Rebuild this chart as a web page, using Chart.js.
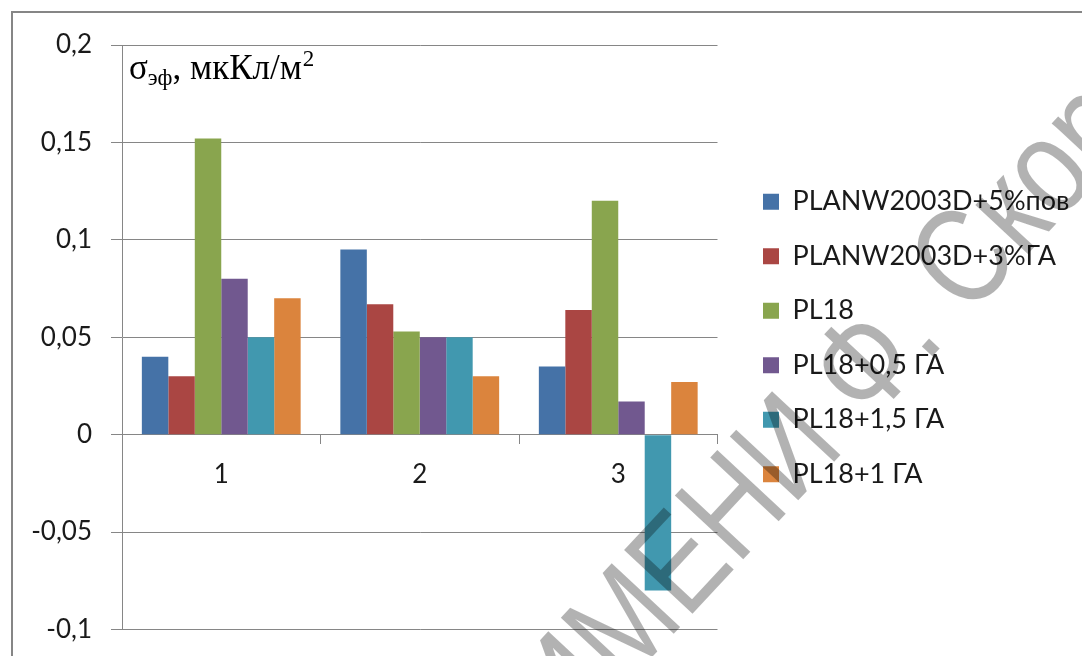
<!DOCTYPE html>
<html>
<head>
<meta charset="utf-8">
<script src="https://cdn.jsdelivr.net/npm/chart.js@4.4.1/dist/chart.umd.min.js"></script>
<style>
  html, body { margin: 0; padding: 0; background: #ffffff; overflow: hidden; }
  #wrap { position: relative; width: 1082px; height: 656px; overflow: hidden; }
  #frame { position: absolute; left: 11px; top: 11px; width: 1200px; height: 800px;
           border: 2px solid #868686; box-sizing: border-box; }
  #c { position: absolute; left: 0; top: 0; }
</style>
</head>
<body>
<div id="wrap">
  <div id="frame"></div>
  <canvas id="c" width="1082" height="656"></canvas>
</div>
<script>
// Sample numbers (categories 1..3)
const categories = ['1', '2', '3'];

// Series names
const seriesNames = [
  'PLANW2003D+5%пов',
  'PLANW2003D+3%ГА',
  'PL18',
  'PL18+0,5 ГА',
  'PL18+1,5 ГА',
  'PL18+1 ГА'
];

// Effective surface charge density, μC/m²
const planw5pov  = [0.040, 0.095, 0.035];
const planw3ga   = [0.030, 0.067, 0.064];
const pl18       = [0.152, 0.053, 0.120];
const pl18ga05   = [0.080, 0.050, 0.017];
const pl18ga15   = [0.050, 0.050, -0.080];
const pl18ga1    = [0.070, 0.030, 0.027];

// Value axis ticks and their printed labels
const yTickValues = [-0.1, -0.05, 0, 0.05, 0.1, 0.15, 0.2];
const yTickLabels = ['-0,1', '-0,05', '0', '0,05', '0,1', '0,15', '0,2'];

const seriesValues = [planw5pov, planw3ga, pl18, pl18ga05, pl18ga15, pl18ga1];
const seriesColors = ['#4572A7', '#AA4643', '#89A54E', '#71588F', '#4198AF', '#DB843D'];

const uiFont = 'Lato, "Open Sans", sans-serif';
const axisGrey = '#868686';
const textColor = '#1a1a1a';
const tickFontSize = 26;
const legendFontSize = 27;
const legendRowGap = 27.5;

// Legend block placed to the right of the plot
const legendPlacement = {
  id: 'legendPlacement',
  afterLayout(chart) {
    const lg = chart.legend;
    if (!lg) return;
    const pad = lg.options.labels.padding;
    const firstRowTop = 201.7 - legendFontSize / 2;
    const colHeight = 6 * (legendFontSize + pad);
    lg.left = 763 - pad;
    lg.right = 1082;
    lg.width = lg.right - lg.left;
    lg.bottom = 540;
    lg.top = 2 * firstRowTop - pad + colHeight - lg.bottom;
    lg.height = lg.bottom - lg.top;
  }
};

// Axis caption inside the plot: σэф, мкКл/м²
const axisCaption = {
  id: 'axisCaption',
  afterDraw(chart) {
    const ctx = chart.ctx;
    const serif = '"Liberation Serif", "Times New Roman", serif';
    const big = 35, small = 23;
    const base = 79;
    let x = 129;
    ctx.save();
    ctx.fillStyle = '#000000';
    ctx.textAlign = 'left';
    ctx.textBaseline = 'alphabetic';
    ctx.font = big + 'px ' + serif;
    ctx.fillText('σ', x, base);
    x += ctx.measureText('σ').width;
    ctx.font = small + 'px ' + serif;
    ctx.fillText('эф', x, base + 6);
    x += ctx.measureText('эф').width;
    ctx.font = big + 'px ' + serif;
    ctx.fillText(', мкКл/м', x, base);
    x += ctx.measureText(', мкКл/м').width;
    ctx.font = small + 'px ' + serif;
    ctx.fillText('2', x + 1, base - 13);
    ctx.restore();
  }
};

// Translucent diagonal watermark over the figure
const watermark = {
  id: 'watermark',
  afterDraw(chart) {
    const ctx = chart.ctx;
    const text = 'ИМЕНИ Ф. Скорины';
    const size = 136;
    ctx.save();
    ctx.font = size + 'px "Liberation Sans", Arial, sans-serif';
    ctx.textAlign = 'left';
    ctx.textBaseline = 'alphabetic';
    const wLead = ctx.measureText('ИМ').width;
    const wE = ctx.measureText('Е').width;
    const capH = size * 0.716;
    ctx.translate(676, 560);
    ctx.rotate(-47 * Math.PI / 180);
    ctx.scale(0.82, 1);
    ctx.fillStyle = 'rgba(0,0,0,0.3)';
    ctx.fillText(text, -(wLead + wE / 2), capH / 2);
    ctx.restore();
  }
};

const datasets = seriesNames.map((name, i) => ({
  label: name,
  data: seriesValues[i],
  backgroundColor: seriesColors[i],
  borderWidth: 0,
  categoryPercentage: 0.8,
  barPercentage: 1.0
}));

new Chart(document.getElementById('c'), {
  type: 'bar',
  data: { labels: categories, datasets: datasets },
  options: {
    responsive: false,
    animation: false,
    devicePixelRatio: 1,
    layout: { padding: { left: 0, top: 45, right: 364.5, bottom: 26.5 } },
    scales: {
      x: {
        position: { y: 0 },
        offset: true,
        border: { display: true, color: axisGrey, width: 1 },
        grid: { display: true, offset: true, drawOnChartArea: false, drawTicks: true,
                tickLength: 9, color: axisGrey, lineWidth: 1 },
        ticks: { padding: 15, color: textColor, font: { family: uiFont, size: tickFontSize },
                 maxRotation: 0 }
      },
      y: {
        min: -0.1,
        max: 0.2,
        afterBuildTicks: (scale) => { scale.ticks = yTickValues.map(v => ({ value: v })); },
        afterFit: (scale) => {
          scale.width = 122;
          scale.paddingTop = 0;
          scale.paddingBottom = 0;
        },
        border: { display: true, color: axisGrey, width: 1 },
        grid: { color: axisGrey, lineWidth: 1, tickLength: 11, drawTicks: true },
        ticks: { padding: 19, color: textColor, font: { family: uiFont, size: tickFontSize },
                 callback: (value, index) => yTickLabels[index] }
      }
    },
    plugins: {
      legend: {
        position: 'chartArea',
        labels: { boxWidth: 16, boxHeight: 16, padding: legendRowGap, color: textColor,
                  font: { family: uiFont, size: legendFontSize } }
      },
      tooltip: { enabled: false },
      title: { display: false }
    }
  },
  plugins: [legendPlacement, axisCaption, watermark]
});
</script>
</body>
</html>
